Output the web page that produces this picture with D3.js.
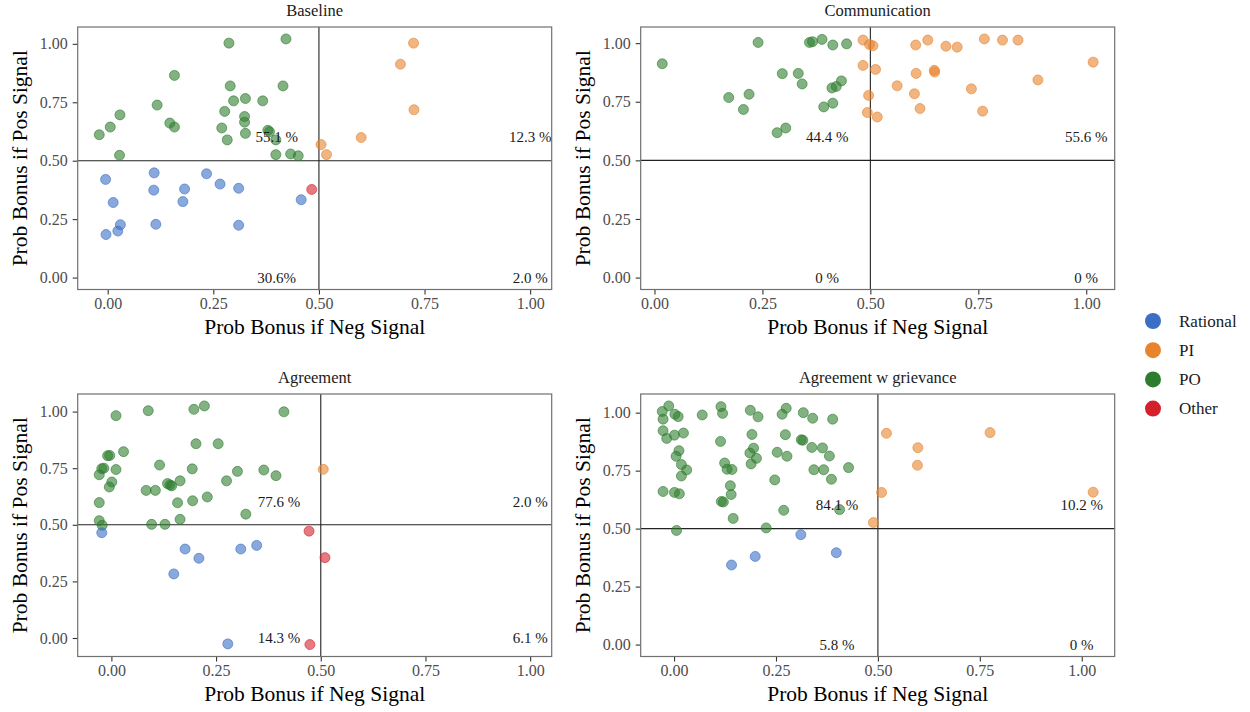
<!DOCTYPE html>
<html>
<head>
<meta charset="utf-8">
<script src="https://cdn.jsdelivr.net/npm/d3@7"></script>
<style>
  body { margin: 0; background: #fff; }
  text { font-family: "Liberation Serif", "Times New Roman", serif; }
</style>
</head>
<body>
<svg id="chart" width="1250" height="712"></svg>
<script>
// Respondent types and their colours
const types = ["Rational", "PI", "PO", "Other"];
const typeColors = ["#3a6fc5", "#e8832e", "#2e7d2e", "#d3222b"];

// Panels (treatments)
const panelTitles = ["Baseline", "Communication", "Agreement", "Agreement w grievance"];

// Shared axis ticks
const tickValues = [0, 0.25, 0.5, 0.75, 1];
const tickLabels = ["0.00", "0.25", "0.50", "0.75", "1.00"];
const xTitle = "Prob Bonus if Neg Signal";
const yTitle = "Prob Bonus if Pos Signal";

// Share labels: anchor points (data units) and texts per panel
const shareX = [0.4, 1.0, 0.4, 1.0];
const shareY = [0.6, 0.6, 0.0, 0.0];
const baselineShares = ["55.1 %", "12.3 %", "30.6%", "2.0 %"];
const communicationShares = ["44.4 %", "55.6 %", "0 %", "0 %"];
const agreementShares = ["77.6 %", "2.0 %", "14.3 %", "6.1 %"];
const grievanceShares = ["84.1 %", "10.2 %", "5.8 %", "0 %"];

// Respondents: [type, prob bonus if neg signal, prob bonus if pos signal]
const baseline = [
  ["PO",-0.020,0.611],["PO",0.006,0.644],["PO",0.029,0.696],["PO",0.028,0.523],["PO",0.117,0.738],
  ["PO",0.147,0.661],["PO",0.158,0.644],["PO",0.158,0.865],["PO",0.287,1.003],["PO",0.290,0.820],
  ["PO",0.270,0.640],["PO",0.277,0.711],["PO",0.298,0.756],["PO",0.283,0.589],["PO",0.326,0.766],
  ["PO",0.324,0.689],["PO",0.324,0.665],["PO",0.326,0.617],["PO",0.367,0.756],["PO",0.379,0.630],
  ["PO",0.383,0.624],["PO",0.398,0.589],["PO",0.398,0.526],["PO",0.433,0.529],["PO",0.451,0.521],
  ["PO",0.415,0.820],["PO",0.422,1.021],
  ["PI",0.724,1.003],["PI",0.693,0.913],["PI",0.725,0.718],["PI",0.600,0.599],["PI",0.505,0.569],
  ["PI",0.518,0.526],
  ["Rational",-0.005,0.420],["Rational",0.013,0.321],["Rational",-0.004,0.184],["Rational",0.024,0.199],
  ["Rational",0.030,0.226],["Rational",0.110,0.448],["Rational",0.109,0.374],["Rational",0.114,0.228],
  ["Rational",0.182,0.379],["Rational",0.178,0.325],["Rational",0.234,0.444],["Rational",0.266,0.400],
  ["Rational",0.310,0.382],["Rational",0.310,0.224],["Rational",0.458,0.333],
  ["Other",0.483,0.377]
];

const communication = [
  ["PO",0.018,0.912],["PO",0.172,0.768],["PO",0.219,0.782],["PO",0.206,0.717],["PO",0.240,1.003],
  ["PO",0.296,0.870],["PO",0.333,0.871],["PO",0.342,0.826],["PO",0.284,0.618],["PO",0.304,0.638],
  ["PO",0.359,1.003],["PO",0.366,1.006],["PO",0.388,1.016],["PO",0.413,0.992],["PO",0.445,0.997],
  ["PO",0.392,0.728],["PO",0.413,0.744],["PO",0.411,0.809],["PO",0.421,0.815],["PO",0.433,0.839],
  ["PI",0.483,1.013],["PI",0.498,0.994],["PI",0.506,0.989],["PI",0.483,0.905],["PI",0.512,0.888],
  ["PI",0.496,0.777],["PI",0.493,0.704],["PI",0.516,0.685],["PI",0.562,0.818],["PI",0.605,0.992],
  ["PI",0.633,1.013],["PI",0.606,0.871],["PI",0.602,0.784],["PI",0.615,0.721],["PI",0.648,0.884],
  ["PI",0.649,0.877],["PI",0.675,0.987],["PI",0.701,0.983],["PI",0.734,0.805],["PI",0.760,0.710],
  ["PI",0.764,1.018],["PI",0.806,1.013],["PI",0.842,1.013],["PI",0.888,0.843],["PI",1.016,0.919]
];

const agreement = [
  ["PO",0.011,0.982],["PO",0.088,1.004],["PO",0.197,1.010],["PO",0.222,1.025],["PO",0.412,0.999],
  ["PO",0.202,0.858],["PO",0.255,0.858],["PO",0.029,0.823],["PO",-0.009,0.805],["PO",-0.004,0.806],
  ["PO",-0.023,0.748],["PO",-0.018,0.750],["PO",0.011,0.744],["PO",-0.029,0.721],["PO",0.115,0.764],
  ["PO",0.193,0.747],["PO",0.301,0.736],["PO",0.364,0.742],["PO",0.393,0.717],["PO",0.001,0.689],
  ["PO",-0.005,0.667],["PO",0.083,0.652],["PO",0.105,0.652],["PO",0.134,0.682],["PO",0.144,0.672],
  ["PO",0.140,0.676],["PO",0.164,0.694],["PO",0.275,0.694],["PO",-0.029,0.598],["PO",0.158,0.597],
  ["PO",0.194,0.606],["PO",0.229,0.623],["PO",0.321,0.547],["PO",0.164,0.524],["PO",-0.029,0.518],
  ["PO",-0.022,0.498],["PO",0.096,0.502],["PO",0.128,0.502],
  ["PI",0.506,0.745],
  ["Rational",-0.023,0.465],["Rational",0.176,0.393],["Rational",0.209,0.352],["Rational",0.149,0.283],
  ["Rational",0.309,0.393],["Rational",0.347,0.409],["Rational",0.278,-0.026],
  ["Other",0.472,0.472],["Other",0.510,0.355],["Other",0.474,-0.029]
];

const grievance = [
  ["PO",-0.029,1.005],["PO",-0.013,1.029],["PO",-0.027,0.972],["PO",0.002,0.993],["PO",0.010,0.983],
  ["PO",0.069,0.990],["PO",0.115,1.026],["PO",0.119,0.997],["PO",0.187,1.010],["PO",0.206,0.982],
  ["PO",0.265,0.993],["PO",0.275,1.019],["PO",0.317,1.000],["PO",0.340,0.976],["PO",0.389,0.972],
  ["PO",-0.027,0.922],["PO",-0.018,0.889],["PO",0.001,0.903],["PO",0.023,0.912],["PO",0.114,0.876],
  ["PO",0.191,0.906],["PO",0.273,0.905],["PO",0.312,0.883],["PO",0.316,0.881],["PO",0.012,0.836],
  ["PO",0.005,0.812],["PO",0.018,0.776],["PO",0.031,0.753],["PO",0.018,0.727],["PO",0.195,0.847],
  ["PO",0.186,0.826],["PO",0.202,0.803],["PO",0.189,0.779],["PO",0.124,0.783],["PO",0.130,0.756],
  ["PO",0.142,0.755],["PO",0.253,0.829],["PO",0.277,0.812],["PO",0.338,0.850],["PO",0.364,0.848],
  ["PO",0.381,0.813],["PO",0.343,0.754],["PO",0.367,0.754],["PO",0.386,0.713],["PO",0.428,0.763],
  ["PO",0.247,0.710],["PO",-0.027,0.660],["PO",0.001,0.656],["PO",0.013,0.650],["PO",0.138,0.685],
  ["PO",0.140,0.647],["PO",0.116,0.617],["PO",0.121,0.615],["PO",0.145,0.544],["PO",0.269,0.579],
  ["PO",0.406,0.582],["PO",0.006,0.492],["PO",0.226,0.503],
  ["PI",0.521,0.911],["PI",0.775,0.914],["PI",0.598,0.849],["PI",0.597,0.773],["PI",0.509,0.656],
  ["PI",1.028,0.657],["PI",0.489,0.526],
  ["Rational",0.141,0.343],["Rational",0.199,0.380],["Rational",0.311,0.474],["Rational",0.398,0.396]
];

const panelData = [baseline, communication, agreement, grievance];
const panelShares = [baselineShares, communicationShares, agreementShares, grievanceShares];

// ---- layout ----
const panelW = 474, panelH = 262.5;
const colLeft = [77.7, 640.7];
const rowTop = [27, 394];
const yTitleX = [27, 590];

const color = d3.scaleOrdinal().domain(types).range(typeColors);
const svg = d3.select("#chart");

// ggplot-style continuous expansion (5% each side)
function expanded(vals) {
  const [lo, hi] = d3.extent(vals);
  const pad = (hi - lo) * 0.05;
  return [lo - pad, hi + pad];
}

panelData.forEach((data, i) => {
  const col = i % 2, row = Math.floor(i / 2);
  const left = colLeft[col], top = rowTop[row];
  const xs = data.map(d => d[1]).concat(shareX);
  const ys = data.map(d => d[2]).concat(shareY);
  const x = d3.scaleLinear().domain(expanded(xs)).range([0, panelW]);
  const y = d3.scaleLinear().domain(expanded(ys)).range([panelH, 0]);

  const g = svg.append("g").attr("transform", `translate(${left},${top})`);

  // strip title
  g.append("text")
    .attr("x", panelW / 2).attr("y", -11)
    .attr("text-anchor", "middle")
    .attr("font-size", 16.5).attr("fill", "#1a1a1a")
    .text(panelTitles[i]);

  // axes
  const xAxis = g.append("g").attr("transform", `translate(0,${panelH})`)
    .call(d3.axisBottom(x).tickValues(tickValues).tickFormat((d, k) => tickLabels[k])
      .tickSize(5).tickPadding(3));
  const yAxis = g.append("g")
    .call(d3.axisLeft(y).tickValues(tickValues).tickFormat((d, k) => tickLabels[k])
      .tickSize(5).tickPadding(5));
  [xAxis, yAxis].forEach(a => {
    a.select(".domain").remove();
    a.selectAll(".tick line").attr("stroke", "#333").attr("stroke-width", 1.1);
    a.selectAll(".tick text").attr("fill", "#4d4d4d").attr("font-size", 16)
      .attr("font-family", "Liberation Serif, serif");
  });
  xAxis.selectAll(".tick text").attr("dy", "0.71em");

  // axis titles
  g.append("text")
    .attr("x", panelW / 2).attr("y", panelH + 44)
    .attr("text-anchor", "middle").attr("font-size", 21.5).attr("fill", "#000")
    .text(xTitle);
  g.append("text")
    .attr("transform", `translate(${yTitleX[col] - left},${panelH / 2}) rotate(-90)`)
    .attr("text-anchor", "middle").attr("font-size", 21.5).attr("fill", "#000")
    .text(yTitle);

  // reference lines at 0.5
  g.append("line")
    .attr("x1", 0).attr("x2", panelW).attr("y1", y(0.5)).attr("y2", y(0.5))
    .attr("stroke", "#222").attr("stroke-width", 1.1);
  g.append("line")
    .attr("x1", x(0.5)).attr("x2", x(0.5)).attr("y1", 0).attr("y2", panelH)
    .attr("stroke", "#222").attr("stroke-width", 1.1);

  // points
  g.append("g").selectAll("circle").data(data).join("circle")
    .attr("cx", d => x(d[1])).attr("cy", d => y(d[2])).attr("r", 5)
    .attr("fill", d => color(d[0])).attr("fill-opacity", 0.6)
    .attr("stroke", d => color(d[0])).attr("stroke-opacity", 0.6).attr("stroke-width", 1);

  // share labels
  g.append("g").selectAll("text").data(panelShares[i]).join("text")
    .attr("x", (d, k) => x(shareX[k])).attr("y", (d, k) => y(shareY[k]))
    .attr("text-anchor", "middle").attr("dominant-baseline", "central")
    .attr("font-size", 15).attr("fill", "#1a1a1a")
    .text(d => d);

  // panel border
  g.append("rect")
    .attr("x", 0).attr("y", 0).attr("width", panelW).attr("height", panelH)
    .attr("fill", "none").attr("stroke", "#707070").attr("stroke-width", 1.2);
});

// legend
const legend = svg.append("g").attr("transform", "translate(1153,321)");
const rows = legend.selectAll("g").data(types).join("g")
  .attr("transform", (d, k) => `translate(0,${k * 29.2})`);
rows.append("circle").attr("r", 8).attr("fill", d => color(d));
rows.append("text").attr("x", 26).attr("dominant-baseline", "central")
  .attr("font-size", 17).attr("fill", "#1a1a1a").text(d => d);
</script>
</body>
</html>
